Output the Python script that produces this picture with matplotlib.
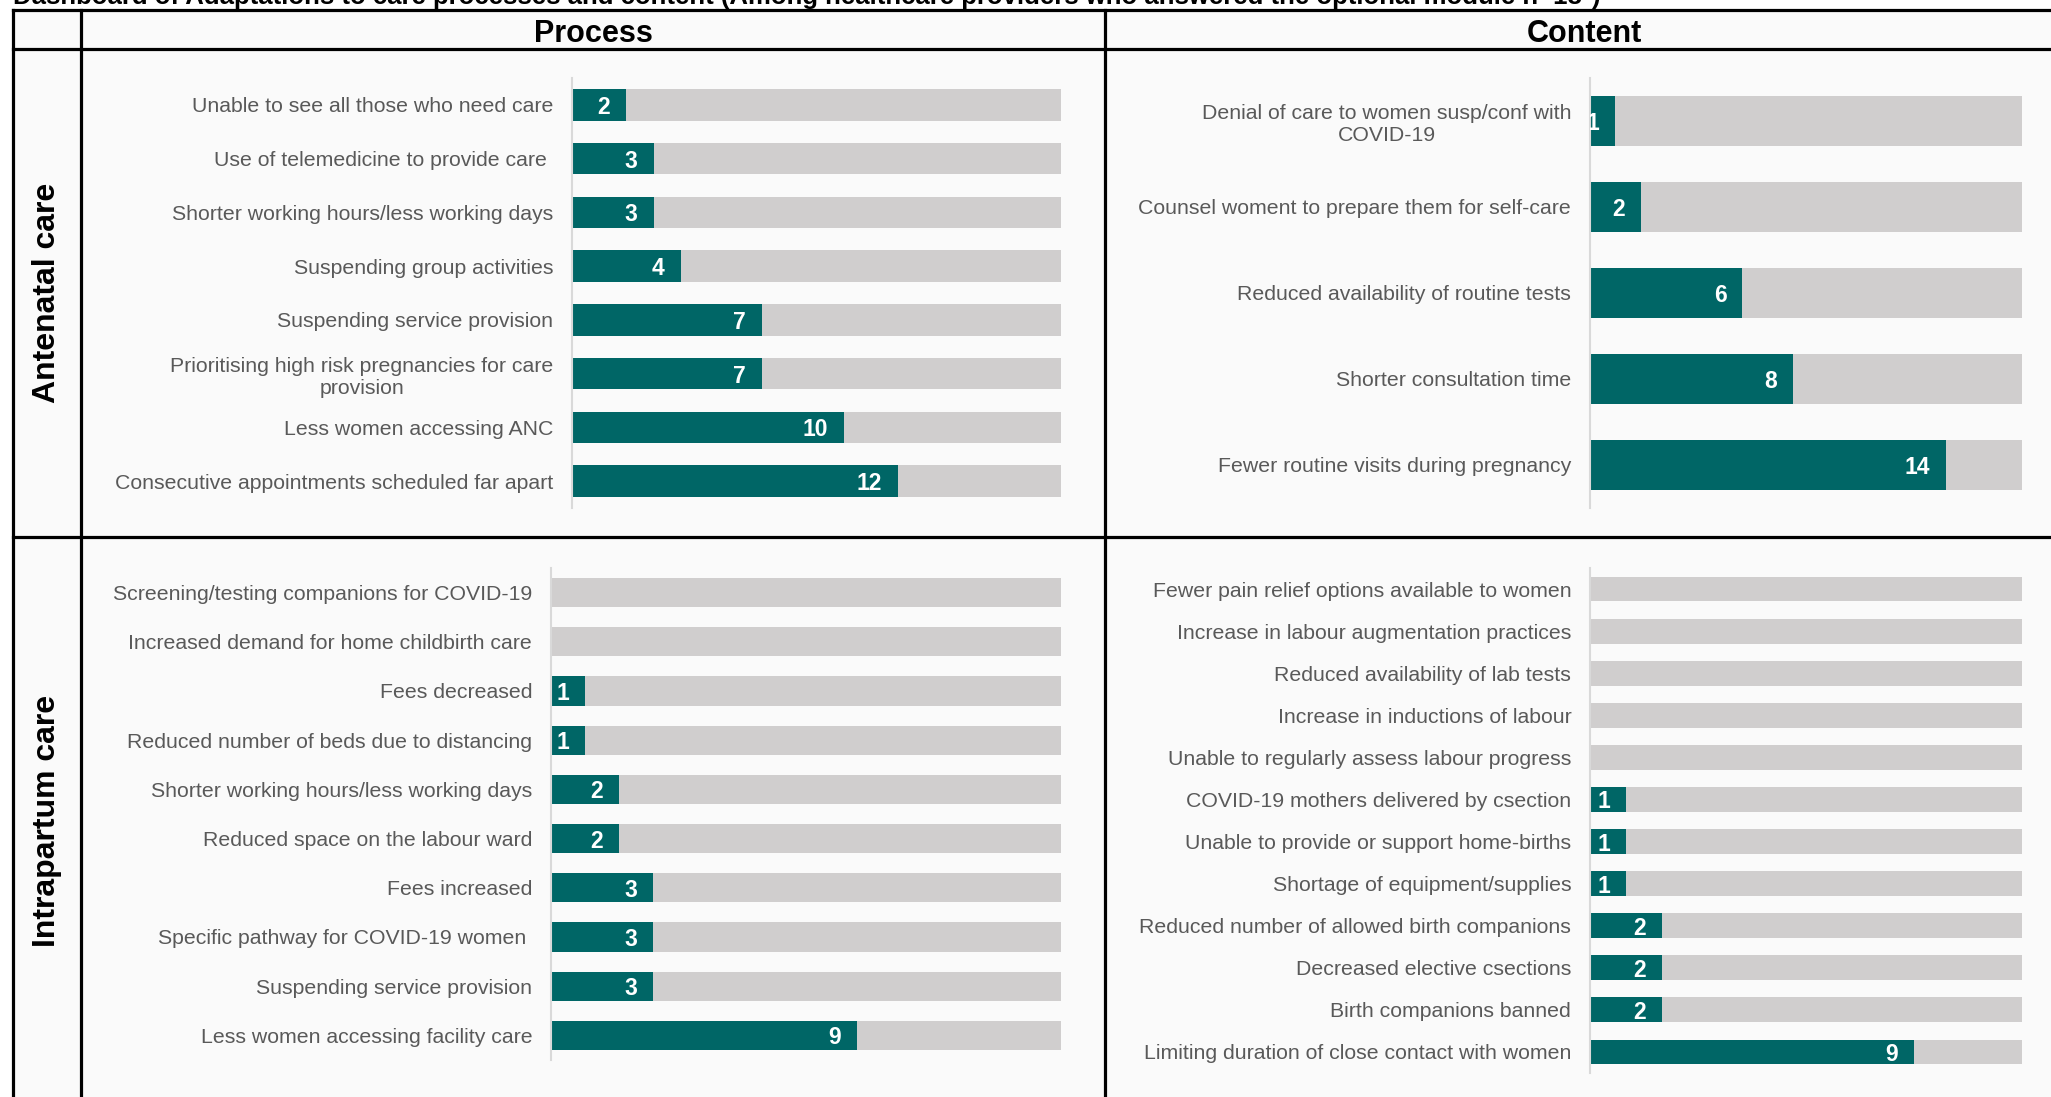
import matplotlib
matplotlib.use("Agg")
import matplotlib.pyplot as plt
from matplotlib.lines import Line2D
from matplotlib.patches import Rectangle
from matplotlib.transforms import offset_copy

plt.rcParams['font.family'] = ['Liberation Sans', 'DejaVu Sans']

# data
ap_labels = ["Unable to see all those who need care",
             "Use of telemedicine to provide care ",
             "Shorter working hours/less working days",
             "Suspending group activities",
             "Suspending service provision",
             "Prioritising high risk pregnancies for care\nprovision",
             "Less women accessing ANC",
             "Consecutive appointments scheduled far apart"]
ap_vals = [2, 3, 3, 4, 7, 7, 10, 12]
ap_total = 18

ac_labels = ["Denial of care to women susp/conf with\nCOVID-19",
             "Counsel woment to prepare them for self-care",
             "Reduced availability of routine tests",
             "Shorter consultation time",
             "Fewer routine visits during pregnancy"]
ac_vals = [1, 2, 6, 8, 14]
ac_total = 17

ip_labels = ["Screening/testing companions for COVID-19",
             "Increased demand for home childbirth care",
             "Fees decreased",
             "Reduced number of beds due to distancing",
             "Shorter working hours/less working days",
             "Reduced space on the labour ward",
             "Fees increased",
             "Specific pathway for COVID-19 women ",
             "Suspending service provision",
             "Less women accessing facility care"]
ip_vals = [0, 0, 1, 1, 2, 2, 3, 3, 3, 9]
ip_total = 15

ic_labels = ["Fewer pain relief options available to women",
             "Increase in labour augmentation practices",
             "Reduced availability of lab tests",
             "Increase in inductions of labour",
             "Unable to regularly assess labour progress",
             "COVID-19 mothers delivered by csection",
             "Unable to provide or support home-births",
             "Shortage of equipment/supplies",
             "Reduced number of allowed birth companions",
             "Decreased elective csections",
             "Birth companions banned",
             "Limiting duration of close contact with women"]
ic_vals = [0, 0, 0, 0, 0, 1, 1, 1, 2, 2, 2, 9]
ic_total = 12

TEAL = '#006666'
GREY = '#D0CECE'
W, H = 2051, 1097

fig = plt.figure(figsize=(W / 100, H / 100), dpi=100, facecolor='white')


def px(x0, y0, x1, y1):
    # pixel box (top-left origin) -> figure fraction rect
    return [x0 / W, 1 - y1 / H, (x1 - x0) / W, (y1 - y0) / H]


# table background + grid lines
fig.add_artist(Rectangle((13 / W, 0), 1, 1 - 10 / H, transform=fig.transFigure,
                         facecolor='#fafafa', edgecolor='none', zorder=0))
lw = 2.3
for y in [10, 49, 537]:
    fig.add_artist(Line2D([13 / W, 1], [1 - y / H, 1 - y / H], color='black', lw=lw))
for x in [13, 81, 1105]:
    fig.add_artist(Line2D([x / W, x / W], [0, 1 - 10 / H], color='black', lw=lw))

# title sits partly above the top edge, as in the source
fig.text(13 / W, 1 - 4 / H,
         "Dashboard of Adaptations to care processes and content "
         "(Among healthcare providers who answered the optional module n=18*)",
         fontsize=18.5, fontweight='bold', ha='left', va='baseline')
fig.text(593 / W, 1 - 31 / H, "Process", fontsize=22, fontweight='bold',
         ha='center', va='center_baseline')
fig.text(1584 / W, 1 - 31 / H, "Content", fontsize=22, fontweight='bold',
         ha='center', va='center_baseline')
fig.text(47 / W, 1 - 293 / H, "Antenatal care", fontsize=23, fontweight='bold',
         rotation=90, ha='center', va='center')
fig.text(47 / W, 1 - 821 / H, "Intrapartum care", fontsize=23, fontweight='bold',
         rotation=90, ha='center', va='center')


def panel(rect, labels, vals, total):
    ax = fig.add_axes(rect)
    ax.set_facecolor('none')
    pos = range(len(labels))
    ax.barh(pos, [total] * len(labels), height=0.59, color=GREY)
    ax.barh(pos, vals, height=0.59, color=TEAL)
    ax.set_xlim(0, total)
    ax.set_ylim(len(labels) - 0.5, -0.5)
    ax.set_yticks(list(pos))
    ax.set_yticklabels(labels, fontsize=15.3, color='#595959')
    for t in ax.get_yticklabels():
        t.set_multialignment('center')
    ax.tick_params(axis='y', length=0, pad=13.5)
    ax.set_xticks([])
    for s in ['top', 'right', 'bottom']:
        ax.spines[s].set_visible(False)
    ax.spines['left'].set_color('#d9d9d9')
    ax.spines['left'].set_linewidth(1.5)
    trans = offset_copy(ax.transData, fig=fig, x=-16, y=0, units='dots')
    for i, v in enumerate(vals):
        if v > 0:
            ax.text(v, i, str(v), transform=trans, ha='right', va='center_baseline',
                    color='white', fontsize=16.5, fontweight='bold', clip_on=True)
    return ax


panel(px(572, 78, 1061, 508), ap_labels, ap_vals, ap_total)
panel(px(1590, 78, 2022, 508), ac_labels, ac_vals, ac_total)
panel(px(551, 568, 1061, 1060), ip_labels, ip_vals, ip_total)
panel(px(1590, 568, 2022, 1073), ic_labels, ic_vals, ic_total)

fig.savefig('out.png', dpi=100, facecolor=fig.get_facecolor())
